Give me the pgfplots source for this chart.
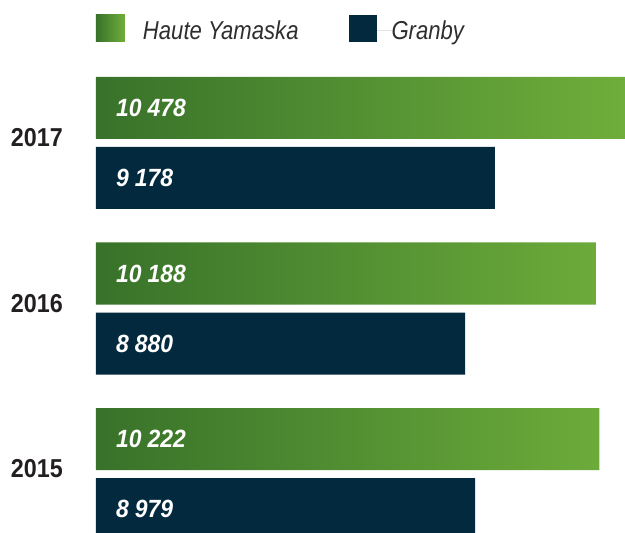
\documentclass[border=0pt]{standalone}
\usepackage{pgfplots}
\pgfplotsset{compat=1.18}
\usepackage{pgfplotstable}
\usepackage{fontspec}
\setmainfont{Liberation Sans}
\newfontfamily\numfont{Liberation Sans}[FakeStretch=0.9]
\newfontfamily\valfont{Liberation Sans}[FakeStretch=0.92]
\newfontfamily\legfont{Liberation Sans}[FakeStretch=0.853]
\definecolor{gdark}{HTML}{38722A}
\definecolor{glight}{HTML}{6FAE3B}
\definecolor{navy}{HTML}{03293F}
\definecolor{ytext}{HTML}{231F20}
\definecolor{legtext}{HTML}{2E2E2E}

% values (Haute Yamaska, Granby); bars are drawn from a hidden baseline of 5190
\pgfplotstableread{
idx hy gr
0 10478 9178
1 10188 8880
2 10222 8979
}\data

\begin{document}
\begin{tikzpicture}
\path[use as bounding box] (-96bp,0bp) rectangle (529bp,533bp);
\begin{axis}[
  at={(0,0)}, anchor=south west,
  scale only axis, width=529bp, height=533bp,
  xmin=0, xmax=5288,
  ymin=-0.864, ymax=2.3565, y dir=reverse,
  axis line style={draw=none},
  xtick=\empty, ytick={0,1,2}, yticklabels={2017,2016,2015},
  major tick length=0pt,
  yticklabel style={font=\numfont\bfseries\fontsize{26}{26}\selectfont, text=ytext, anchor=east, inner sep=0pt, xshift=-33bp, yshift=5bp},
  legend columns=2,
  legend style={at={(0,0.9719)}, anchor=north west, draw=none, fill=none,
    inner sep=0pt, outer sep=0pt,
    font=\legfont\itshape\fontsize{26}{26}\selectfont, text=legtext,
    nodes={inner sep=0pt},
    /tikz/every even column/.append style={column sep=50bp}},
]
\addplot[xbar, bar width=62bp, bar shift=35bp, draw=none, left color=gdark, right color=glight,
  legend image code/.code={\fill[left color=gdark,right color=glight] (0bp,-11bp) rectangle (29bp,16bp); \path (29bp,0bp) -- (47bp,0bp);}]
  table[x expr=\thisrow{hy}-5190, y=idx]{\data};
\addlegendentry{Haute Yamaska}
\addplot[xbar, bar width=62bp, bar shift=-35bp, draw=none, fill=navy,
  legend image code/.code={\fill[navy] (0bp,-11bp) rectangle (28bp,16bp); \path (28bp,0bp) -- (43bp,0bp);}]
  table[x expr=\thisrow{gr}-5190, y=idx]{\data};
\addlegendentry{Granby}
\addplot[forget plot, draw=none, mark=none, point meta=explicit,
  nodes near coords={\pgfmathprintnumber[1000 sep={\hspace{0.24em}}, assume math mode=true]{\pgfplotspointmeta}},
  every node near coord/.append style={anchor=west, inner sep=0pt, xshift=20bp, yshift=35bp,
    font=\valfont\bfseries\itshape\fontsize{25}{25}\selectfont, text=white}]
  table[x expr=0, y=idx, meta=hy]{\data};
\addplot[forget plot, draw=none, mark=none, point meta=explicit,
  nodes near coords={\pgfmathprintnumber[1000 sep={\hspace{0.24em}}, assume math mode=true]{\pgfplotspointmeta}},
  every node near coord/.append style={anchor=west, inner sep=0pt, xshift=20bp, yshift=-35bp,
    font=\valfont\bfseries\itshape\fontsize{25}{25}\selectfont, text=white}]
  table[x expr=0, y=idx, meta=gr]{\data};
\end{axis}
\end{tikzpicture}
\end{document}
